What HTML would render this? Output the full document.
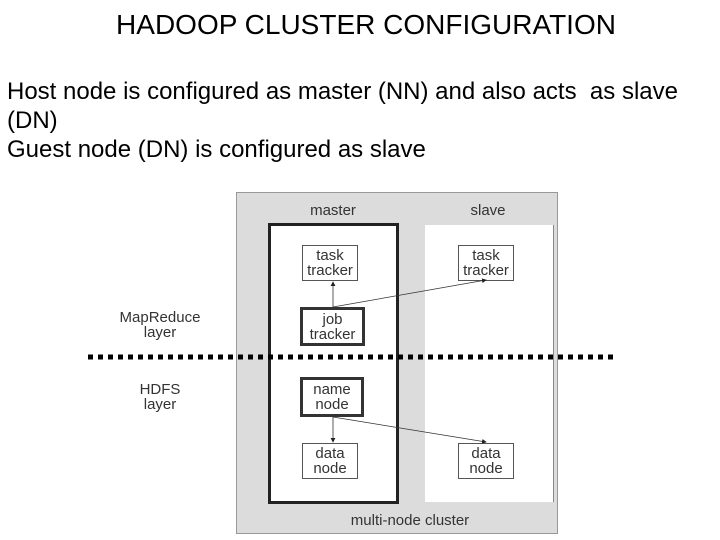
<!DOCTYPE html>
<html><head><style>
body{margin:0;width:720px;height:540px;background:#fff;position:relative;overflow:hidden;font-family:"Liberation Sans",sans-serif}
.t{position:absolute;white-space:nowrap}
.b{position:absolute;background:#fff;border:1px solid #555;box-sizing:border-box;font-size:15px;color:#333;text-align:center;line-height:15px;display:flex;align-items:center;justify-content:center}
.k{border:3px solid #333}
.s{font-size:15px;color:#333;position:absolute;text-align:center}
</style></head><body>
<div class="t" style="left:0;width:732px;text-align:center;top:9px;font-size:28px">HADOOP CLUSTER CONFIGURATION</div>
<div class="t" style="left:7px;top:77px;font-size:24px;line-height:29px">Host node is configured as master (NN) and also acts&nbsp; as slave<br>(DN)<br>Guest node (DN) is configured as slave</div>
<div style="position:absolute;left:236px;top:192px;width:322px;height:342px;background:#dcdcdc;border:1px solid #999;box-sizing:border-box"></div>
<div style="position:absolute;left:268px;top:223px;width:131px;height:281px;background:#fff;border:3px solid #222;box-sizing:border-box"></div>
<div style="position:absolute;left:425px;top:225px;width:129px;height:277px;background:#fff;border-right:1px solid #888;box-sizing:border-box"></div>
<div class="s" style="left:283px;width:100px;top:202px">master</div>
<div class="s" style="left:438px;width:100px;top:202px">slave</div>
<div class="s" style="left:320px;width:180px;top:512px">multi-node cluster</div>
<div class="b" style="left:302px;top:245px;width:56px;height:36px">task<br>tracker</div>
<div class="b k" style="left:300px;top:307px;width:65px;height:39px">job<br>tracker</div>
<div class="b k" style="left:300px;top:377px;width:64px;height:40px">name<br>node</div>
<div class="b" style="left:302px;top:443px;width:56px;height:36px">data<br>node</div>
<div class="b" style="left:458px;top:245px;width:56px;height:36px">task<br>tracker</div>
<div class="b" style="left:458px;top:443px;width:56px;height:36px">data<br>node</div>
<div class="s" style="left:100px;width:120px;top:310px;line-height:15px">MapReduce<br>layer</div>
<div class="s" style="left:100px;width:120px;top:382px;line-height:15px">HDFS<br>layer</div>
<svg width="720" height="540" style="position:absolute;left:0;top:0">
<defs><marker id="a" markerWidth="6" markerHeight="6" refX="5" refY="3" orient="auto"><path d="M0,0L6,3L0,6z" fill="#222"/></marker></defs>
<line x1="88" y1="357" x2="615" y2="357" stroke="#000" stroke-width="5" stroke-dasharray="5 5"/>
<g stroke="#333" stroke-width="0.8" marker-end="url(#a)">
<line x1="333" y1="307" x2="333" y2="282"/>
<line x1="333" y1="307" x2="486" y2="280"/>
<line x1="333" y1="417" x2="333" y2="442"/>
<line x1="333" y1="417" x2="486" y2="442"/>
</g>
</svg>
</body></html>
